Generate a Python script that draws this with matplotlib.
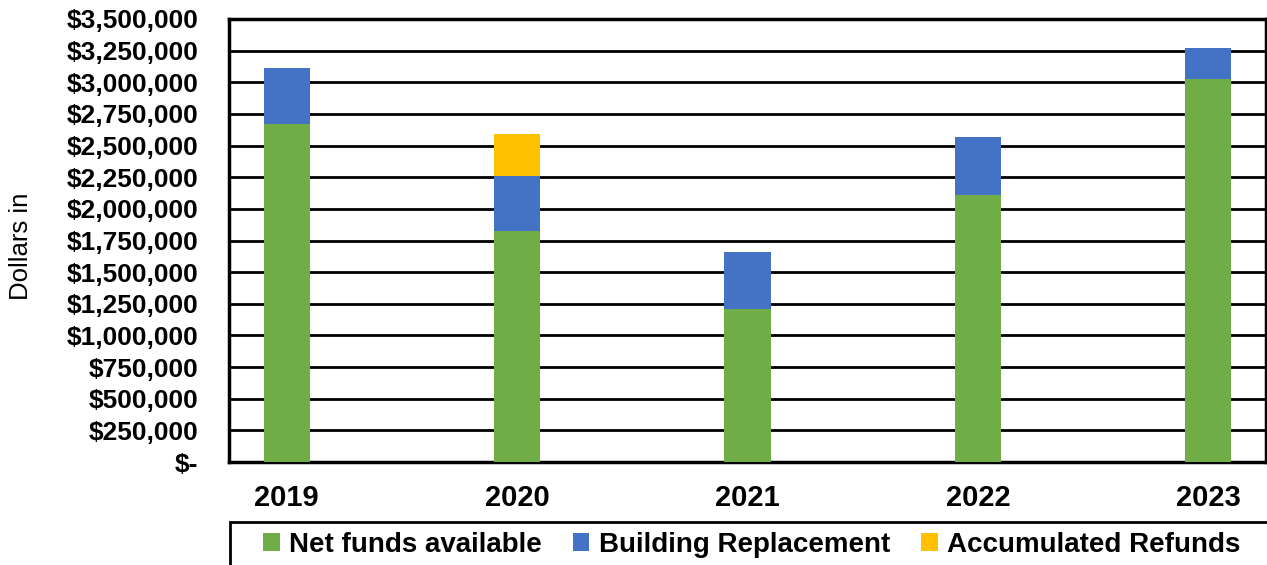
import matplotlib.pyplot as plt
from matplotlib.patches import Rectangle
from matplotlib.ticker import FuncFormatter

plt.rcParams['font.family'] = ['Liberation Sans', 'DejaVu Sans']

years = ['2019', '2020', '2021', '2022', '2023']
net_funds = [2670000, 1829000, 1211000, 2113000, 3025000]
building = [446000, 431000, 450000, 457000, 249000]
refunds = [0, 331000, 0, 0, 0]

fig = plt.figure(figsize=(12.67, 5.65), dpi=100)
ax = fig.add_axes([229 / 1267, 1 - 462 / 565, 1037 / 1267, 443 / 565])

x = range(len(years))
w = 0.2
bottom2 = [a + b for a, b in zip(net_funds, building)]
ax.bar(x, net_funds, w, color='#70ad47', label='Net funds available', zorder=3)
ax.bar(x, building, w, bottom=net_funds, color='#4472c4', label='Building Replacement', zorder=3)
ax.bar(x, refunds, w, bottom=bottom2, color='#ffc000', label='Accumulated Refunds', zorder=3)

ax.set_xlim(-0.25, 4.25)
ax.set_ylim(0, 3500000)
ax.set_yticks(range(0, 3500001, 250000))


def money(v, pos):
    if v == 0:
        return '$-'
    return '${:,.0f}'.format(v)


ax.yaxis.set_major_formatter(FuncFormatter(money))
ax.set_xticks(list(x))
ax.set_xticklabels(years)
ax.tick_params(axis='both', length=0)
ax.tick_params(axis='y', pad=22, labelsize=19)
ax.tick_params(axis='x', pad=16, labelsize=21)
for lab in ax.get_xticklabels() + ax.get_yticklabels():
    lab.set_fontweight('bold')

ax.grid(axis='y', color='black', linewidth=2, zorder=0)
for s in ax.spines.values():
    s.set_color('black')
    s.set_linewidth(2.5)

fig.text(21 / 1267, 1 - 246 / 565, 'Dollars in', rotation=90, fontsize=18.5,
         ha='center', va='center')

# legend box runs off the bottom/right edge like the original
fig.patches.append(Rectangle((230 / 1267, -0.1), 1.0, 0.1 + (565 - 522) / 565,
                             transform=fig.transFigure, fill=False,
                             edgecolor='black', linewidth=2))
fig.legend(loc='center left', bbox_to_anchor=(263 / 1267, 1 - 545 / 565),
           ncol=3, prop={'weight': 'bold', 'size': 20},
           handlelength=0.6, handleheight=0.6, handletextpad=0.35,
           columnspacing=1.1, borderaxespad=0, borderpad=0, frameon=False)

fig.savefig('out.png', dpi=100)
